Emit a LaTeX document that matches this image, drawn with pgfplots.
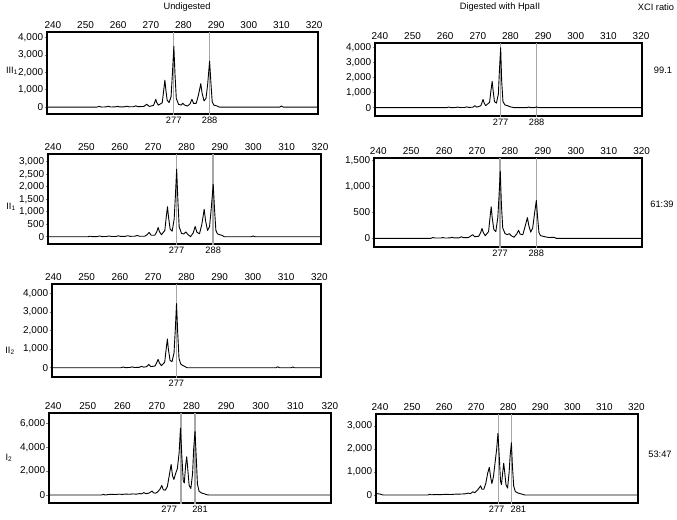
\documentclass[border=0pt]{standalone}
\usepackage{fontspec}
\setmainfont{Liberation Sans}
\usepackage{pgfplots}
\pgfplotsset{compat=1.18}

\pgfplotsset{
  peaks/.style={
    scale only axis, clip mode=individual,
    axis line style={line width=1.2bp},
    xtick={240,250,...,320},
    xticklabel pos=right,
    xtick style={draw=none},
    ytick pos=left,
    ytick style={line width=0.6bp},
    tick align=outside,
    major tick length=2.5bp,
    scaled y ticks=false,
    /pgf/number format/assume math mode=true,
    /pgf/number format/1000 sep={,},
    tick label style={font=\fontsize{10}{12}\selectfont},
    xticklabel style={inner sep=1bp},
    yticklabel style={inner sep=1.2bp},
  },
  trace/.style={black, line width=0.9bp, line join=round, mark=none},
  marker/.style={black!35, line width=1.5bp, mark=none},
}
\tikzset{allele/.style={anchor=north, inner ysep=3bp, inner xsep=0pt}}

\begin{document}
\fontsize{9.3}{11}\selectfont
\begin{tikzpicture}
\useasboundingbox (0,0) rectangle (677bp,-520bp);

\node at (187bp,-7bp) {Undigested};
\node at (500bp,-7bp) {Digested with HpaII};
\node at (656bp,-7bp) {XCI ratio};
\node at (663bp,-70bp) {99.1};
\node at (662bp,-204bp) {61:39};
\node at (660bp,-454bp) {53:47};
\node at (12bp,-71bp) {III\textsubscript{1}};
\node at (11bp,-207bp) {II\textsubscript{1}};
\node at (10bp,-351bp) {II\textsubscript{2}};
\node at (9bp,-458bp) {I\textsubscript{2}};

% III1 undigested
\begin{axis}[peaks, at={(47bp,-32bp)}, anchor=north west,
  width=271bp, height=82bp,
  xmin=238.2, xmax=321.2, ymin=-400, ymax=4330,
  ytick={0,1000,...,4000}]
\addplot[marker] coordinates {(277,-2000) (277,20000)};
\addplot[marker] coordinates {(288,-2000) (288,20000)};
\addplot[trace] coordinates {
(238,0) (250,0) (253.5,0) (254.2,40) (254.9,0) (256.3,10) (257,50) (257.7,5)
(259.1,10) (259.8,40) (260.5,10) (261.9,15) (262.6,50) (263.3,15) (264.7,20)
(265.4,70) (266.1,20) (267.9,40) (268.7,160) (269.5,40) (270.8,90) (271.2,280)
(271.5,450) (271.8,270) (272.3,110) (273.5,250) (273.9,900) (274.3,1550)
(274.6,1000) (275.0,400) (275.6,260) (276.2,600) (276.6,1900) (277.05,3500)
(277.4,1900) (277.8,500) (278.5,150) (279.3,120) (279.8,220) (280.3,120)
(281.2,60) (282.0,180) (282.6,450) (283.1,200) (283.9,220) (284.6,700)
(285.3,1350) (285.7,800) (286.3,350) (286.9,500) (287.4,1300) (288,2650)
(288.4,1400) (288.8,300) (289.3,110) (289.8,90) (290.3,60) (291,0)
(309.5,0) (310,60) (310.5,0) (321,0)};
\node[allele] at (axis cs:277,-400) {277};
\node[allele] at (axis cs:288,-400) {288};
\end{axis}

% III1 digested
\begin{axis}[peaks, at={(375bp,-43bp)}, anchor=north west,
  width=267bp, height=73bp,
  xmin=238.5, xmax=320.3, ymin=-560, ymax=4310,
  ytick={0,1000,...,4000}]
\addplot[marker] coordinates {(277,-2000) (277,20000)};
\addplot[marker] coordinates {(288,-2000) (288,20000)};
\addplot[trace] coordinates {
(238,0) (260.5,0) (261.1,40) (261.7,0) (263.2,5) (263.8,40) (264.4,5)
(266.0,10) (266.6,50) (267.2,10) (268.5,30) (269.1,130) (269.7,30)
(270.9,120) (271.3,350) (271.6,550) (271.9,330) (272.4,130) (273.6,350)
(274.0,1100) (274.4,1750) (274.7,1100) (275.1,400) (275.7,300) (276.3,900)
(276.6,2400) (277,4000) (277.3,1800) (277.7,400) (278.3,180) (279.2,120)
(280.0,50) (281,0) (285.1,0) (285.6,40) (286.1,0) (287.5,0) (288,50)
(288.5,0) (321,0)};
\node[allele] at (axis cs:277,-560) {277};
\node[allele] at (axis cs:288,-560) {288};
\end{axis}

% II1 undigested
\begin{axis}[peaks, at={(48bp,-154bp)}, anchor=north west,
  width=273bp, height=90bp,
  xmin=238.5, xmax=320.3, ymin=-292, ymax=3308,
  ytick={0,500,...,3000}]
\addplot[marker] coordinates {(277,-2000) (277,20000)};
\addplot[marker] coordinates {(288,-2000) (288,20000)};
\addplot[trace] coordinates {
(238,0) (250.5,0) (251.2,20) (251.9,0) (253.3,5) (254.0,30) (254.7,5)
(256.1,10) (256.8,30) (257.5,10) (258.9,10) (259.6,35) (260.3,10)
(261.7,15) (262.4,40) (263.1,15) (264.5,20) (265.2,50) (265.9,20)
(267.5,20) (268.2,80) (268.8,170) (269.4,60) (270.5,60) (271.1,200)
(271.5,370) (271.9,200) (272.5,80) (273.5,250) (273.9,750) (274.3,1200)
(274.6,800) (275.1,300) (275.7,220) (276.3,700) (276.7,1700) (277.05,2700)
(277.4,1500) (277.8,400) (278.5,130) (279.2,110) (279.8,190) (280.4,90)
(281.2,0) (282.0,150) (282.6,410) (283.1,180) (283.9,120) (284.6,500)
(285.3,1100) (285.7,650) (286.3,250) (286.9,400) (287.4,1100) (288,2100)
(288.4,1100) (288.8,250) (289.3,110) (290,80) (290.7,50) (291.3,0)
(299.5,0) (300,30) (300.5,0) (321,0)};
\node[allele] at (axis cs:277,-292) {277};
\node[allele] at (axis cs:288,-292) {288};
\end{axis}

% II1 digested
\begin{axis}[peaks, at={(374bp,-158bp)}, anchor=north west,
  width=268bp, height=89bp,
  xmin=238.7, xmax=320.1, ymin=-168, ymax=1552,
  ytick={0,500,1000,1500}]
\addplot[marker] coordinates {(277,-2000) (277,20000)};
\addplot[marker] coordinates {(288,-2000) (288,20000)};
\addplot[trace] coordinates {
(238,0) (256,0) (256.6,15) (257.2,5) (259,5) (259.6,15) (260.2,5)
(261.8,8) (262.4,20) (263,8) (264.6,10) (265.2,30) (265.8,12) (267.4,15)
(268.1,45) (268.7,70) (269.3,30) (270.5,40) (271.1,110) (271.5,190)
(271.9,110) (272.5,50) (273.5,130) (273.9,380) (274.3,610) (274.6,400)
(275.1,170) (275.7,130) (276.3,400) (276.7,850) (277.05,1300) (277.4,650)
(277.8,200) (278.5,90) (279.2,70) (279.8,90) (280.4,50) (281.2,20)
(282.0,80) (282.6,155) (283.1,80) (283.9,70) (284.6,230) (285.3,400)
(285.7,250) (286.3,120) (286.9,200) (287.4,450) (288,730) (288.4,400)
(288.8,110) (289.3,50) (290,40) (291,25) (292,15) (293.4,20) (294,0)
(321,0)};
\node[allele] at (axis cs:277,-168) {277};
\node[allele] at (axis cs:288,-168) {288};
\end{axis}

% II2 undigested
\begin{axis}[peaks, at={(52bp,-284bp)}, anchor=north west,
  width=269bp, height=93bp,
  xmin=239.6, xmax=320.5, ymin=-500, ymax=4500,
  ytick={0,1000,...,4000}]
\addplot[marker] coordinates {(277,-2000) (277,20000)};
\addplot[trace] coordinates {
(238,0) (260.3,0) (261,35) (261.7,5) (263,10) (263.7,45) (264.4,10)
(265.8,20) (266.5,70) (267.2,30) (268.1,60) (268.7,180) (269.3,60)
(270.6,90) (271.1,270) (271.5,450) (271.9,260) (272.5,110) (273.5,300)
(273.9,950) (274.3,1540) (274.6,1000) (275.1,400) (275.7,320) (276.3,800)
(276.7,2100) (277.05,3450) (277.4,1900) (277.8,500) (278.3,200)
(278.9,120) (279.6,60) (280.2,0) (307,0) (307.5,50) (308,0) (311.5,0)
(312,40) (312.5,0) (321,0)};
\node[allele] at (axis cs:277,-500) {277};
\end{axis}

% I2 undigested
\begin{axis}[peaks, at={(49bp,-413bp)}, anchor=north west,
  width=282bp, height=90bp,
  xmin=238.8, xmax=320.3, ymin=-670, ymax=6860,
  ytick={0,2000,4000,6000}]
\addplot[marker] coordinates {(277,-2000) (277,20000)};
\addplot[marker] coordinates {(281,-2000) (281,20000)};
\addplot[trace] coordinates {
(238,0) (254,0) (254.5,50) (255,0) (256,40) (257,60) (258,40) (259,70)
(260,50) (261,80) (262,60) (263,90) (264,70) (265,120) (265.5,90)
(266.2,200) (266.8,110) (267.6,150) (268.2,260) (268.6,330) (269,180)
(269.6,150) (270.2,250) (270.9,500) (271.4,800) (271.8,450) (272.4,400)
(273.0,700) (273.6,1700) (274.1,2560) (274.5,1600) (274.9,1300)
(275.4,1800) (275.9,2200) (276.4,3500) (276.8,5600) (277.2,3200)
(277.6,1200) (277.9,1000) (278.3,2500) (278.6,3200) (278.9,2200)
(279.3,800) (279.8,550) (280.3,1800) (280.6,3800) (281,5330) (281.3,3500)
(281.7,900) (282.2,300) (283,150) (283.7,100) (284.3,30) (285,0) (321,0)};
\node[allele, xshift=-12bp] at (axis cs:277,-670) {277};
\node[allele, xshift=5bp] at (axis cs:281,-670) {281};
\end{axis}

% I2 digested
\begin{axis}[peaks, at={(376bp,-414bp)}, anchor=north west,
  width=262bp, height=89bp,
  xmin=238.75, xmax=320.5, ymin=-348, ymax=3520,
  ytick={0,1000,2000,3000}]
\addplot[marker] coordinates {(277,-2000) (277,20000)};
\addplot[marker] coordinates {(281,-2000) (281,20000)};
\addplot[trace] coordinates {
(238,0) (239,60) (240,40) (241,0) (255,0) (255.5,30) (256,10) (257.5,20)
(259,15) (260.5,30) (262,20) (263.5,35) (265,40) (266.5,50) (267.5,80)
(268.2,60) (269,140) (269.6,100) (270.3,200) (270.8,280) (271.4,400)
(271.8,250) (272.4,250) (273,500) (273.6,950) (274.1,1200) (274.5,800)
(274.9,500) (275.4,800) (275.9,1400) (276.4,2000) (276.8,2680) (277.2,1700)
(277.6,600) (277.9,450) (278.3,1000) (278.6,1380) (278.9,1000) (279.3,450)
(279.8,300) (280.3,1000) (280.6,1700) (281,2270) (281.3,1300) (281.7,400)
(282.2,150) (283,90) (283.7,60) (284.5,30) (285.2,0) (321,0)};
\node[allele, xshift=-2bp] at (axis cs:277,-348) {277};
\node[allele, xshift=7bp] at (axis cs:281,-348) {281};
\end{axis}
\end{tikzpicture}
\end{document}
